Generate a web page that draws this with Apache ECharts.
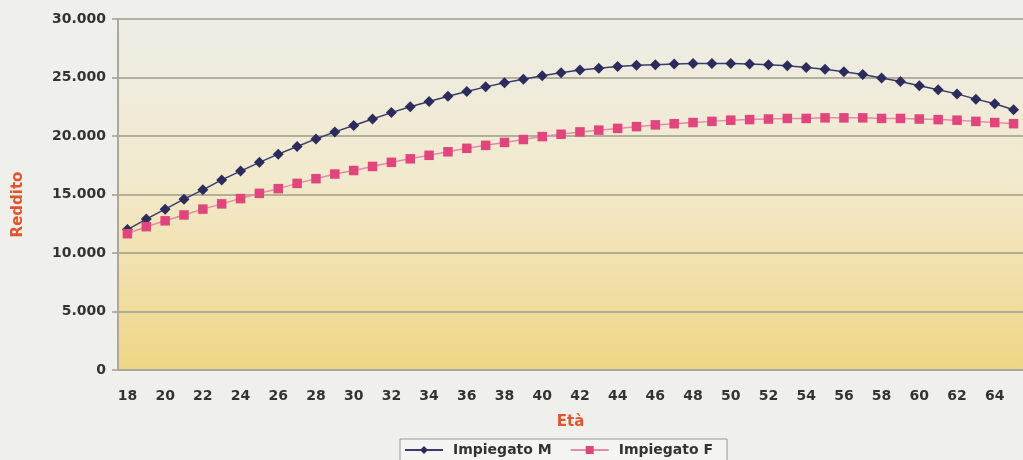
<!DOCTYPE html>
<html>
<head>
<meta charset="utf-8">
<script src="https://cdn.jsdelivr.net/npm/echarts@6/dist/echarts.min.js"></script>
<style>
html,body{margin:0;padding:0;background:#efefec;}
#c{width:1023px;height:460px;}
</style>
</head>
<body>
<div id="c"></div>
<script>
const ages = [18,19,20,21,22,23,24,25,26,27,28,29,30,31,32,33,34,35,36,37,38,39,40,41,42,43,44,45,46,47,48,49,50,51,52,53,54,55,56,57,58,59,60,61,62,63,64,65];
const impiegatoM = [12000,12900,13750,14600,15400,16250,17000,17750,18450,19100,19750,20350,20900,21450,22000,22500,22950,23400,23800,24200,24550,24850,25150,25400,25650,25800,25950,26050,26100,26150,26200,26200,26200,26150,26100,26000,25850,25700,25500,25250,24950,24650,24300,23950,23600,23150,22750,22250];
const impiegatoF = [11650,12250,12750,13250,13750,14200,14650,15100,15500,15950,16350,16750,17050,17400,17750,18050,18350,18650,18950,19200,19450,19700,19950,20150,20350,20500,20650,20800,20950,21050,21150,21250,21350,21400,21450,21500,21500,21550,21550,21550,21500,21500,21450,21400,21350,21250,21150,21050];
const seriesNames = ['Impiegato M','Impiegato F'];
const yAxisTitle = 'Reddito';
const xAxisTitle = 'Età';

const chart = echarts.init(document.getElementById('c'), null, {renderer:'canvas'});
const font = 'DejaVu Sans';
chart.setOption({
  backgroundColor:'#efefec',
  animation:false,
  grid:{
    left:118, right:-2, top:19, bottom:90,
    show:true, borderWidth:0,
    backgroundColor:{type:'linear',x:0,y:0,x2:0,y2:1,colorStops:[
      {offset:0,color:'#edece6'},{offset:0.45,color:'#f2eace'},{offset:1,color:'#efd685'}]}
  },
  legend:{
    data:seriesNames, left:400, top:439,
    backgroundColor:'#f4f4f2', borderColor:'#9a9a9a', borderWidth:1,
    padding:[4,14,6,4], itemGap:18, itemWidth:38, itemHeight:10,
    textStyle:{fontFamily:font, fontWeight:'bold', fontSize:14, color:'#333', padding:[0,0,0,5]}
  },
  xAxis:{
    type:'category', data:ages, boundaryGap:true,
    name:xAxisTitle, nameLocation:'middle', nameGap:45,
    nameTextStyle:{fontFamily:font, fontWeight:'bold', fontSize:15, color:'#e0542e'},
    axisLine:{lineStyle:{color:'#a8a8a0', width:2}},
    axisTick:{interval:0, length:5, lineStyle:{color:'#a8a8a0', width:1}},
    axisLabel:{interval:1, margin:19, fontFamily:font, fontWeight:'bold', fontSize:14, color:'#333'},
    splitLine:{show:false}
  },
  yAxis:{
    type:'value', min:0, max:30000, interval:5000,
    name:yAxisTitle, nameLocation:'middle', nameGap:92, nameRotate:90,
    nameTextStyle:{fontFamily:font, fontWeight:'bold', fontSize:15, color:'#e0542e', padding:[0,20,0,0]},
    axisLine:{show:true, lineStyle:{color:'#a8a8a0', width:2}},
    axisTick:{show:true, length:6, lineStyle:{color:'#9d9d90', width:1.5}},
    axisLabel:{margin:12, fontFamily:font, fontWeight:'bold', fontSize:14, color:'#333',
      formatter:v=>String(v).replace(/\B(?=(\d{3})+(?!\d))/g,'.')},
    splitLine:{lineStyle:{color:'#9c9c8a', width:1.5}}
  },
  series:[
    {name:seriesNames[0], type:'line', data:impiegatoM, symbol:'diamond', symbolSize:11,
     lineStyle:{color:'#3a3b6b', width:1.5}, itemStyle:{color:'#2c2c5c'}},
    {name:seriesNames[1], type:'line', data:impiegatoF, symbol:'rect', symbolSize:9.5,
     lineStyle:{color:'#e58aa8', width:1.5}, itemStyle:{color:'#e0457b'}}
  ]
});
</script>
</body>
</html>
